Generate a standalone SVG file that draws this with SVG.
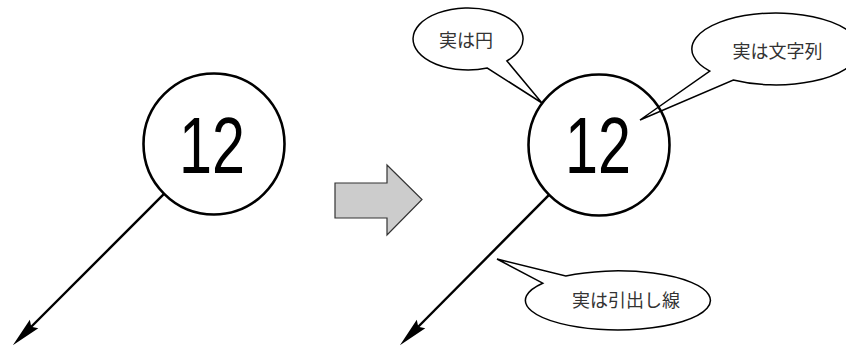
<svg xmlns="http://www.w3.org/2000/svg" width="846" height="347" viewBox="0 0 846 347">
<defs>
<style>
.circ{fill:none;stroke:#000;stroke-width:2.6}
.num{font-family:"Liberation Sans",Arial,sans-serif;font-size:79px;fill:#000}
.bub{fill:#fff;stroke:#000;stroke-width:1.5;stroke-linejoin:miter}
.lbl{font-family:"Noto Sans CJK JP","Noto Sans CJK SC",sans-serif;font-size:18px;fill:#333;text-anchor:middle}
.lead{fill:none;stroke:#000;stroke-width:2.4}
</style>
<marker id="ah" markerUnits="userSpaceOnUse" viewBox="-12 -8 34 16" refX="0" refY="0" markerWidth="34" markerHeight="16" orient="auto" overflow="visible">
<path d="M20 0 L-10 -6 L-6 0 L-10 6 Z" fill="#000"/>
</marker>
</defs>
<rect width="846" height="347" fill="#fff"/>

<g id="connectors">
<line class="lead" x1="163.8" y1="194.2" x2="27" y2="331" marker-end="url(#ah)"/>
<line class="lead" x1="548.8" y1="195.2" x2="414" y2="331" marker-end="url(#ah)"/>
</g>

<g id="arrow-transform">
<polygon points="335,183 387,183 387,165 422,199.5 387,235 387,218 335,218" fill="#cccccc" stroke="#333" stroke-width="1.2"/>
</g>

<g id="bubble-circle">
<path class="bub" d="M506.9 60.9 A55 31 0 1 0 487.3 68 L542 103 Z"/>
<text class="lbl" x="466" y="47">実は円</text>
</g>

<g id="bubble-string">
<path class="bub" d="M709.8 71.2 A84 36 0 1 1 733.3 80 L640 120 Z"/>
<text class="lbl" x="777.5" y="58">実は文字列</text>
</g>

<g id="bubble-leader">
<path class="bub" d="M542.7 283.2 A92.5 29.5 0 1 0 565.8 276 L497 259 Z"/>
<text class="lbl" x="626" y="307">実は引出し線</text>
</g>

<g id="node-left">
<circle class="circ" cx="214" cy="144" r="70.5"/>
<text class="num" x="179" y="173" textLength="66" lengthAdjust="spacingAndGlyphs">12</text>
</g>

<g id="node-right">
<circle class="circ" cx="599" cy="145" r="70.5"/>
<text class="num" x="565" y="173" textLength="66" lengthAdjust="spacingAndGlyphs">12</text>
</g>
</svg>
